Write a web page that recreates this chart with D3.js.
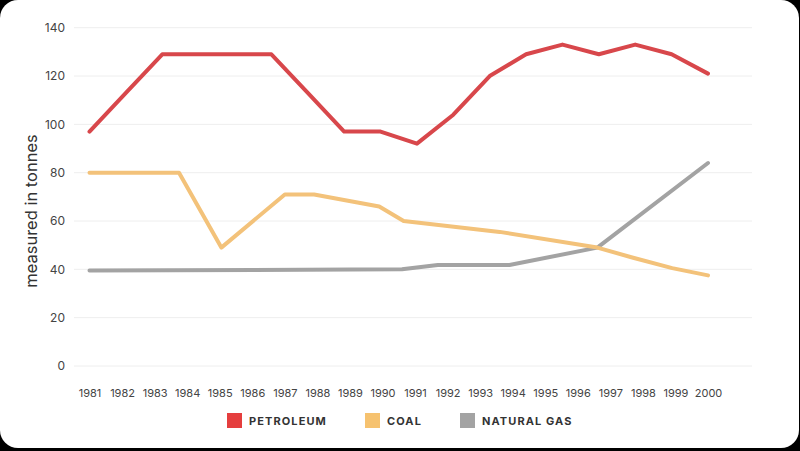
<!DOCTYPE html>
<html>
<head>
<meta charset="utf-8">
<script src="https://cdn.jsdelivr.net/npm/d3@7/dist/d3.min.js"></script>
<style>
  html, body { margin: 0; padding: 0; background: #000; }
  svg { display: block; }
  text { font-family: Inter, "Noto Sans", sans-serif; }
</style>
</head>
<body>
<svg id="chart" width="800" height="451"></svg>
<script>
// ---- data ----
const years = d3.range(1981, 2001).map(String);
const yTicks = [0, 20, 40, 60, 80, 100, 120, 140];
// petroleum: 18 evenly spaced readings across 1981-2000
const petroleum = [97, 113, 129, 129, 129, 129, 113, 97, 97, 92, 104, 120, 129, 133, 129, 133, 129, 121];
// coal and natural gas: [year position, value]
const coalX   = [1981, 1983.75, 1985.05, 1987.0, 1987.9, 1989.9, 1990.65, 1993.6, 1996.6, 1997.7, 1998.9, 2000];
const coalY   = [80, 80, 49, 71, 71, 66, 60, 55.5, 49, 44.8, 40.5, 37.5];
const gasX    = [1981, 1990.6, 1991.7, 1993.9, 1996.6, 2000];
const gasY    = [39.5, 40, 41.8, 41.8, 49, 84];
const seriesNames = ["PETROLEUM", "COAL", "NATURAL GAS"];
const lineColors = ["#d8474b", "#f3c27a", "#a3a3a3"];
const legendColors = ["#e53e3e", "#f6c26f", "#a3a3a3"];

// ---- layout ----
const svg = d3.select("#chart");
svg.append("rect").attr("x", 0).attr("y", 0).attr("width", 799).attr("height", 448)
  .attr("rx", 18).attr("fill", "#fff");

const gridX0 = 74, gridX1 = 752;
const y = d3.scaleLinear().domain([0, 140]).range([366, 27.7]);
const x = d3.scaleLinear().domain([1981, 2000]).range([89.5, 708]);
const xi = d3.scaleLinear().domain([0, petroleum.length - 1]).range([x(1981), x(2000)]);

// grid
svg.append("g").selectAll("line").data(yTicks).join("line")
  .attr("x1", gridX0).attr("x2", gridX1)
  .attr("y1", d => y(d)).attr("y2", d => y(d))
  .attr("stroke", "#eeeeee").attr("stroke-width", 1);

// y axis labels
const yAxis = d3.axisLeft(y).tickValues(yTicks).tickSize(0).tickPadding(0);
const gy = svg.append("g").attr("transform", "translate(65,0)").call(yAxis);
gy.select(".domain").remove();
gy.selectAll("text").attr("font-size", 12).attr("fill", "#444").attr("font-family", "Inter, sans-serif");

// x axis labels
const xb = d3.scalePoint().domain(years).range([89.5, 708]);
const xAxis = d3.axisBottom(xb).tickSize(0).tickPadding(0);
const gx = svg.append("g").attr("transform", "translate(0,389)").call(xAxis);
gx.select(".domain").remove();
gx.selectAll("text").attr("font-size", 11).attr("fill", "#444").attr("font-family", "Inter, sans-serif");

// y title
svg.append("text").attr("transform", "translate(37,211) rotate(-90)")
  .attr("text-anchor", "middle").attr("font-size", 16.5).attr("fill", "#333")
  .text("measured in tonnes");

// lines
const line = d3.line().x(d => d[0]).y(d => d[1]);
const series = [
  petroleum.map((v, i) => [xi(i), y(v)]),
  coalX.map((v, i) => [x(v), y(coalY[i])]),
  gasX.map((v, i) => [x(v), y(gasY[i])])
];
// draw gas first, then coal, then petroleum (coal over gas)
[2, 1, 0].forEach(k => {
  svg.append("path").attr("d", line(series[k]))
    .attr("fill", "none").attr("stroke", lineColors[k]).attr("stroke-width", 4)
    .attr("stroke-linejoin", "round").attr("stroke-linecap", "round");
});

// legend
const legendX = [227, 365, 460];
const lg = svg.append("g");
seriesNames.forEach((n, i) => {
  lg.append("rect").attr("x", legendX[i]).attr("y", 413).attr("width", 15).attr("height", 15)
    .attr("fill", legendColors[i]);
  lg.append("text").attr("x", legendX[i] + 22).attr("y", 424.5)
    .attr("font-size", 11).attr("font-weight", 700).attr("letter-spacing", 1.1)
    .attr("fill", "#333").text(n);
});
</script>
</body>
</html>
